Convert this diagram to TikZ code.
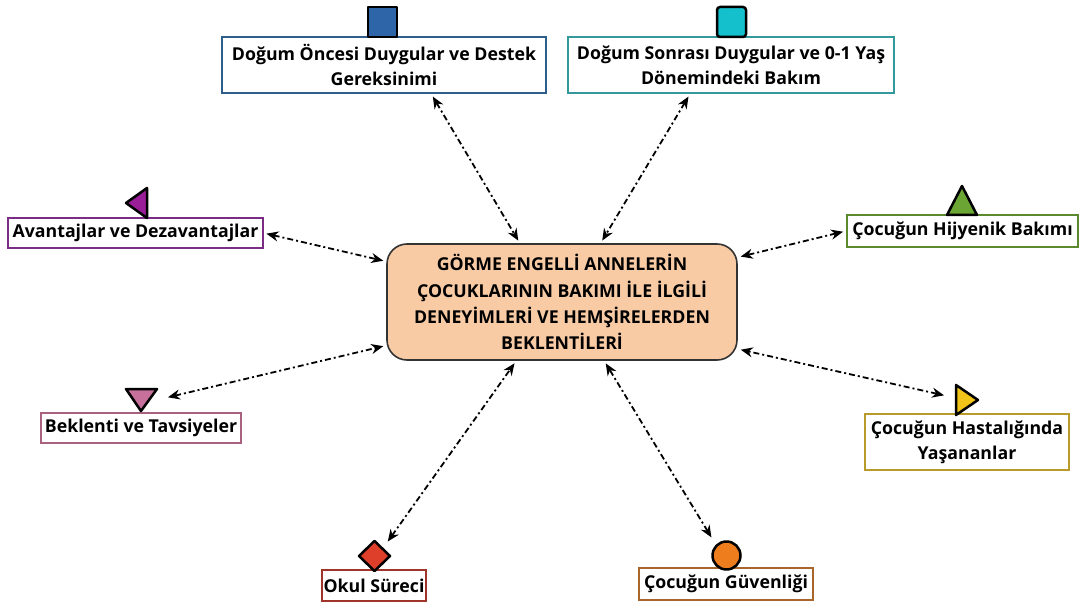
\documentclass[tikz,border=0pt]{standalone}
\usepackage{fontspec}
\setmainfont{Open Sans}
\usetikzlibrary{arrows.meta,calc,shapes.geometric}

\definecolor{cBlue}{HTML}{2E64A8}
\definecolor{cBlueB}{HTML}{2F5D8C}
\definecolor{cTeal}{HTML}{13C0CC}
\definecolor{cTealB}{HTML}{33999C}
\definecolor{cPurple}{HTML}{9A1E98}
\definecolor{cPurpleB}{HTML}{7B2C85}
\definecolor{cGreen}{HTML}{6BA534}
\definecolor{cGreenB}{HTML}{5B8A2E}
\definecolor{cPink}{HTML}{C7709B}
\definecolor{cPinkB}{HTML}{A8627F}
\definecolor{cYellow}{HTML}{F0C419}
\definecolor{cYellowB}{HTML}{B89B2A}
\definecolor{cRed}{HTML}{DE3F2B}
\definecolor{cRedB}{HTML}{A0342A}
\definecolor{cOrange}{HTML}{EE7D1E}
\definecolor{cOrangeB}{HTML}{A8662A}
\definecolor{cPeach}{HTML}{F8CBA5}

\tikzset{
  topic/.style={draw=#1, line width=2bp, fill=white, inner sep=0pt,
    align=center, font=\fontsize{17.8}{25}\selectfont\bfseries},
  hub/.style={draw=black!80, line width=1.6bp, fill=cPeach, rounded corners=20bp,
    inner sep=0pt, align=center, font=\fontsize{17.8}{26.5}\selectfont\bfseries,
    minimum width=350bp, minimum height=116bp},
  marker/.style={draw=black, line width=2.5bp, line join=round, fill=#1},
  link/.style={line width=1.8bp, dash pattern=on 6bp off 3bp on 2bp off 3bp,
    {Stealth[length=12bp,width=10bp]}-{Stealth[length=12bp,width=10bp]},
    shorten <=3bp, shorten >=3bp}
}

\begin{document}
\begin{tikzpicture}[x=1bp,y=-1bp]
\useasboundingbox (0,0) rectangle (1085,606);

% central theme
\node[hub] (c) at (562,302) {GÖRME ENGELLİ ANNELERİN\\ÇOCUKLARININ BAKIMI İLE İLGİLİ\\DENEYİMLERİ VE HEMŞİRELERDEN\\BEKLENTİLERİ};

% surrounding themes
\node[topic=cBlueB, minimum width=324bp, minimum height=56bp] (t1) at (384,65)
  {Doğum Öncesi Duygular ve Destek\\Gereksinimi};
\node[topic=cTealB, minimum width=326bp, minimum height=56bp] (t2) at (731,65)
  {Doğum Sonrası Duygular ve 0-1 Yaş\\Dönemindeki Bakım};
\node[topic=cPurpleB, minimum width=254bp, minimum height=30bp] (t3) at (135.5,233)
  {Avantajlar ve Dezavantajlar};
\node[topic=cGreenB, minimum width=231bp, minimum height=32bp] (t4) at (962.5,231)
  {Çocuğun Hijyenik Bakımı};
\node[topic=cPinkB, minimum width=200bp, minimum height=30bp] (t5) at (141,428)
  {Beklenti ve Tavsiyeler};
\node[topic=cYellowB, minimum width=204bp, minimum height=56bp] (t6) at (967,442)
  {Çocuğun Hastalığında\\Yaşananlar};
\node[topic=cRedB, minimum width=104bp, minimum height=31bp] (t7) at (374,585.5)
  {Okul Süreci};
\node[topic=cOrangeB, minimum width=174bp, minimum height=32bp] (t8) at (726,584)
  {Çocuğun Güvenliği};

% markers above the theme boxes
\draw[marker=cBlue] (368,7) rectangle (397,37);
\draw[marker=cTeal, rounded corners=3bp] (717,7) rectangle (746,37);
\draw[marker=cPurple] (147,188) -- (147,218) -- (126,203) -- cycle;
\draw[marker=cGreen] (947,215) -- (977,215) -- (962,186) -- cycle;
\draw[marker=cPink] (126,389) -- (157,389) -- (141,411) -- cycle;
\draw[marker=cYellow] (956,385) -- (956,415) -- (978,400) -- cycle;
\draw[marker=cRed] (374.5,541) -- (390,556) -- (374.5,571) -- (359,556) -- cycle;
\draw[marker=cOrange] (726.5,555.5) circle[radius=14];

% links between the hub and each theme
\draw[link] ($(t1.south west)!0.645!(t1.south east)$) -- ($(c.north west)!0.38!(c.north east)$);
\draw[link] ($(t2.south west)!0.375!(t2.south east)$) -- ($(c.north west)!0.61!(c.north east)$);
\draw[link] ($(t3.north east)!0.5!(t3.south east)$) -- ($(c.north west)!0.155!(c.south west)$);
\draw[link] ($(t4.north west)!0.5!(t4.south west)$) -- ($(c.north east)!0.12!(c.south east)$);
\draw[link] ($(t5.north east)!0.5!(t5.south east)+(-77,-30)$) -- ($(c.north west)!0.87!(c.south west)$);
\draw[link] ($(t6.north)+(-20,-17)$) -- ($(c.north east)!0.9!(c.south east)$);
\draw[link] ($(t7.north)+(12,-25)$) -- ($(c.south west)!0.37!(c.south east)$);
\draw[link] ($(t8.north)+(-13,-27)$) -- ($(c.south west)!0.62!(c.south east)$);
\end{tikzpicture}
\end{document}
